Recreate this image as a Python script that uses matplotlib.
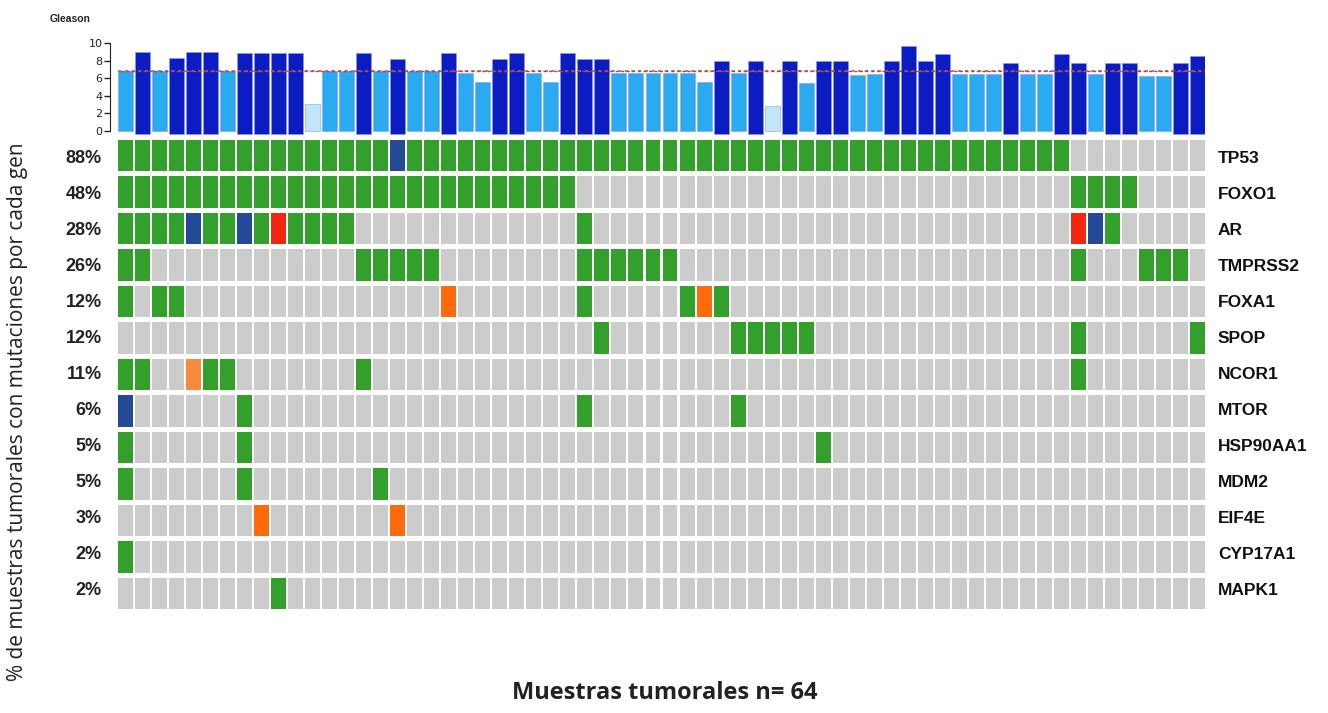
import matplotlib
matplotlib.use("Agg")
import matplotlib.pyplot as plt
import numpy as np

# Oncoprint: Gleason score per sample on top, alteration matrix below.

genes = ["TP53", "FOXO1", "AR", "TMPRSS2", "FOXA1", "SPOP", "NCOR1",
         "MTOR", "HSP90AA1", "MDM2", "EIF4E", "CYP17A1", "MAPK1"]
pct_labels = ["88%", "48%", "28%", "26%", "12%", "12%", "11%",
              "6%", "5%", "5%", "3%", "2%", "2%"]

# one character per sample (64), in blocks of 8
# M = missense, T = truncating, A = amplification, O / o = other
alteration_rows = [
    "MMMMMMMM MMMMMMMM TMMMMMMM MMMMMMMM MMMMMMMM MMMMMMMM MMMMMMMM ........",  # TP53
    "MMMMMMMM MMMMMMMM MMMMMMMM MMM..... ........ ........ ........ MMMM....",  # FOXO1
    "MMMMTMMT MAMMMM.. ........ ...M.... ........ ........ ........ ATM.....",  # AR
    "MM...... ......MM MMM..... ...MMMMM M....... ........ ........ M...MMM.",  # TMPRSS2
    "M.MM.... ........ ...O.... ...M.... .MOM.... ........ ........ ........",  # FOXA1
    "........ ........ ........ ....M... ....MMMM M....... ........ M......M",  # SPOP
    "MM..oMM. ......M. ........ ........ ........ ........ ........ M.......",  # NCOR1
    "T......M ........ ........ ...M.... ....M... ........ ........ ........",  # MTOR
    "M......M ........ ........ ........ ........ .M...... ........ ........",  # HSP90AA1
    "M......M .......M ........ ........ ........ ........ ........ ........",  # MDM2
    "........ O....... O....... ........ ........ ........ ........ ........",  # EIF4E
    "M....... ........ ........ ........ ........ ........ ........ ........",  # CYP17A1
    "........ .M...... ........ ........ ........ ........ ........ ........",  # MAPK1
]

gleason = [6.8, 9.0, 6.8, 8.3, 9.0, 9.0, 6.8, 8.9, 8.9, 8.9, 8.9, 3.1, 6.8, 6.8,
           8.9, 6.8, 8.2, 6.8, 6.8, 8.9, 6.6, 5.6, 8.2, 8.9, 6.6, 5.6, 8.9, 8.2,
           8.2, 6.6, 6.6, 6.6, 6.6, 6.6, 5.6, 8.0, 6.6, 8.0, 2.9, 8.0, 5.5, 8.0,
           8.0, 6.4, 6.5, 8.0, 9.7, 8.0, 8.75, 6.5, 6.5, 6.5, 7.8, 6.5, 6.5, 8.75,
           7.8, 6.5, 7.8, 7.8, 6.3, 6.3, 7.8, 8.5]
gleason_ref = 6.9

alt_colors = {".": "#cccccc", "M": "#33a02c", "T": "#234a96",
              "A": "#f5260f", "O": "#ff6a0d", "o": "#f88a40"}

W, H = 1328, 713


def px_axes(fig, x0, y0, x1, y1):
    """Axes from pixel box (top-left origin)."""
    return fig.add_axes([x0 / W, 1 - y1 / H, (x1 - x0) / W, (y1 - y0) / H])


fig = plt.figure(figsize=(W / 100, H / 100), dpi=100)

rows = [r.replace(" ", "") for r in alteration_rows]
n = len(rows[0])
cell_w = 0.88
x = np.arange(n) + 0.5

# --- alteration matrix ---
ax = px_axes(fig, 118, 140, 1205, 609)
for r, codes in enumerate(rows):
    ax.bar(x, 0.85, width=cell_w, bottom=r + 0.075,
           color=[alt_colors[c] for c in codes], linewidth=0)
ax.set_xlim(0.5 - cell_w / 2, n - 0.5 + cell_w / 2)
ax.set_ylim(len(rows) - 0.075, 0.075)
ax.axis("off")

for r, (g, p) in enumerate(zip(genes, pct_labels)):
    yc = 1 - (r + 0.5) / len(rows)
    ax.text(1.012, yc, g, transform=ax.transAxes,
            ha="left", va="center", fontsize=12.5, fontweight="bold",
            family="Liberation Sans", color="#111111")
    ax.text(-0.015, yc, p, transform=ax.transAxes,
            ha="right", va="center", fontsize=13, fontweight="bold",
            family="Liberation Sans", color="#222222")

# --- Gleason bars ---
gl = np.asarray(gleason)
dark = gl >= 7.5
bar_colors = np.where(dark, "#0a1cc2", np.where(gl < 4, "#c0e6f8", "#2aaaf0"))
bottoms = np.where(dark, -0.3, 0.0)

axg = px_axes(fig, 118, 40.7, 1205, 135.4)
axg.bar(x, gl - bottoms, bottom=bottoms, width=cell_w, color=bar_colors,
        edgecolor="#8a9cf0", linewidth=0.4)
axg.axhline(gleason_ref, color="#777777", lw=1.2, ls=(0, (2, 2)))
axg.axhline(gleason_ref, color="#ee2a2a", lw=1.0, ls=(2, (2, 2)))
axg.set_xlim(0.5 - cell_w / 2, n - 0.5 + cell_w / 2)
axg.set_ylim(-0.5, 10.3)
axg.set_yticks(range(0, 11, 2))
axg.tick_params(axis="y", length=4, width=1, labelsize=8, pad=1,
                colors="#222222")
for t in axg.get_yticklabels():
    t.set_fontweight("bold")
axg.set_xticks([])
for s in ("top", "right", "bottom"):
    axg.spines[s].set_visible(False)
axg.spines["left"].set_position(("outward", 6))
axg.spines["left"].set_bounds(0, 10)
axg.spines["left"].set_color("#222222")
fig.text(70 / W, 1 - 19 / H, "Gleason", ha="center", va="center",
         fontsize=7.5, fontweight="bold", family="Liberation Sans",
         color="#222222")

fig.text(18 / W, 1 - 412 / H,
         "% de muestras tumorales con mutaciones por cada gen",
         rotation=90, ha="center", va="center", fontsize=15,
         family="Open Sans", color="#222222")
fig.text(665 / W, 1 - 693 / H, "Muestras tumorales n= 64", ha="center",
         va="center", fontsize=17, fontweight="bold", family="Open Sans",
         color="#222222")

fig.savefig("out.png", dpi=100)
